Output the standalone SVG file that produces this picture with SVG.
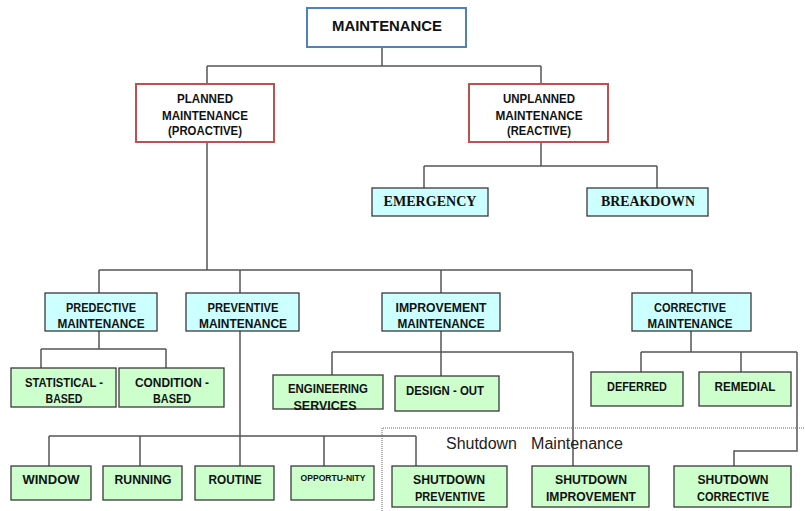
<svg xmlns="http://www.w3.org/2000/svg" width="805" height="511" viewBox="0 0 805 511">
  <style>
    .conn { fill: none; stroke: #555; stroke-width: 1.5; }
    .dot { fill: none; stroke: #666; stroke-width: 1; stroke-dasharray: 1 1; }
    .root { fill: #fff; stroke: #4f81bd; stroke-width: 2; }
    .top { fill: #fff; stroke: #c0504d; stroke-width: 2; }
    .cyan { fill: #ccffff; stroke: #3a3a3a; stroke-width: 1.3; }
    .green { fill: #ccffcc; stroke: #3a3a3a; stroke-width: 1.3; }
    text { font-family: "Liberation Sans", Arial, sans-serif; font-weight: bold; font-size: 12.5px; fill: #111; text-anchor: middle; }
    .serif { font-family: "Liberation Serif", "Times New Roman", serif; font-size: 14px; }
    .big { font-size: 15px; }
    .small { font-size: 8.5px; }
    .plain { font-weight: normal; font-size: 16px; text-anchor: start; fill: #222; }
  </style>

  <!-- connectors -->
  <g id="connectors">
    <path class="conn" d="M382,47 V66 M207,66 H541 M207,66 V84 M541,66 V84"/>
    <path class="conn" d="M541,142 V166 M424,166 H657 M424,166 V188 M657,166 V188"/>
    <path class="conn" d="M207,142 V270 M99,270 H692 M99,270 V293 M240,270 V293 M441,270 V293 M692,270 V293"/>
    <path class="conn" d="M99,331 V349 M41,349 H166 M41,349 V368 M166,349 V368"/>
    <path class="conn" d="M240,331 V436 M49,436 H416 M49,436 V466 M140,436 V466 M240,436 V466 M324,436 V466 M416,436 V466"/>
    <path class="conn" d="M441,331 V376 M332,352 H573 M332,352 V375 M573,352 V466"/>
    <path class="conn" d="M691,331 V352 M641,352 H797 M641,352 V372 M741,352 V372 M797,352 V451 H734 V466"/>
    <path class="dot" d="M382,511 V428 H805"/>
  </g>

  <g id="maintenance">
    <rect class="root" x="307" y="8" width="159" height="39"/>
    <text class="big" x="387" y="31" textLength="110" lengthAdjust="spacingAndGlyphs">MAINTENANCE</text>
  </g>

  <g id="planned">
    <rect class="top" x="136" y="84" width="138" height="58"/>
    <text x="205" y="103" textLength="56" lengthAdjust="spacingAndGlyphs">PLANNED</text>
    <text x="205" y="120" textLength="86" lengthAdjust="spacingAndGlyphs">MAINTENANCE</text>
    <text x="205" y="135" textLength="74" lengthAdjust="spacingAndGlyphs">(PROACTIVE)</text>
  </g>

  <g id="unplanned">
    <rect class="top" x="469" y="84" width="139" height="58"/>
    <text x="539" y="103" textLength="72" lengthAdjust="spacingAndGlyphs">UNPLANNED</text>
    <text x="539" y="120" textLength="87" lengthAdjust="spacingAndGlyphs">MAINTENANCE</text>
    <text x="539" y="135" textLength="64" lengthAdjust="spacingAndGlyphs">(REACTIVE)</text>
  </g>

  <g id="emergency">
    <rect class="cyan" x="372" y="188" width="116" height="28"/>
    <text class="serif" x="430" y="206" textLength="93" lengthAdjust="spacingAndGlyphs">EMERGENCY</text>
  </g>

  <g id="breakdown">
    <rect class="cyan" x="587" y="188" width="121" height="28"/>
    <text class="serif" x="648" y="206" textLength="94" lengthAdjust="spacingAndGlyphs">BREAKDOWN</text>
  </g>

  <g id="predictive">
    <rect class="cyan" x="45" y="293" width="112" height="38"/>
    <text x="101" y="312" textLength="70" lengthAdjust="spacingAndGlyphs">PREDECTIVE</text>
    <text x="101" y="328" textLength="87" lengthAdjust="spacingAndGlyphs">MAINTENANCE</text>
  </g>

  <g id="preventive">
    <rect class="cyan" x="186" y="293" width="113" height="38"/>
    <text x="243" y="312" textLength="71" lengthAdjust="spacingAndGlyphs">PREVENTIVE</text>
    <text x="243" y="328" textLength="88" lengthAdjust="spacingAndGlyphs">MAINTENANCE</text>
  </g>

  <g id="improvement">
    <rect class="cyan" x="382" y="293" width="118" height="38"/>
    <text x="441" y="312" textLength="91" lengthAdjust="spacingAndGlyphs">IMPROVEMENT</text>
    <text x="441" y="328" textLength="87" lengthAdjust="spacingAndGlyphs">MAINTENANCE</text>
  </g>

  <g id="corrective">
    <rect class="cyan" x="632" y="293" width="119" height="38"/>
    <text x="690" y="312" textLength="72" lengthAdjust="spacingAndGlyphs">CORRECTIVE</text>
    <text x="690" y="328" textLength="85" lengthAdjust="spacingAndGlyphs">MAINTENANCE</text>
  </g>

  <g id="statistical">
    <rect class="green" x="11" y="368" width="105" height="39"/>
    <text x="64" y="387" textLength="78" lengthAdjust="spacingAndGlyphs">STATISTICAL -</text>
    <text x="64" y="403" textLength="37" lengthAdjust="spacingAndGlyphs">BASED</text>
  </g>

  <g id="condition">
    <rect class="green" x="119" y="368" width="105" height="39"/>
    <text x="172" y="387" textLength="74" lengthAdjust="spacingAndGlyphs">CONDITION -</text>
    <text x="172" y="403" textLength="38" lengthAdjust="spacingAndGlyphs">BASED</text>
  </g>

  <g id="engineering">
    <rect class="green" x="273" y="375" width="110" height="34"/>
    <text x="328" y="393" textLength="80" lengthAdjust="spacingAndGlyphs">ENGINEERING</text>
    <text x="325" y="410" textLength="63" lengthAdjust="spacingAndGlyphs">SERVICES</text>
  </g>

  <g id="design-out">
    <rect class="green" x="395" y="376" width="104" height="35"/>
    <text x="445" y="395" textLength="78" lengthAdjust="spacingAndGlyphs">DESIGN - OUT</text>
  </g>

  <g id="deferred">
    <rect class="green" x="591" y="372" width="92" height="34"/>
    <text x="637" y="391" textLength="60" lengthAdjust="spacingAndGlyphs">DEFERRED</text>
  </g>

  <g id="remedial">
    <rect class="green" x="699" y="372" width="92" height="34"/>
    <text x="745" y="391" textLength="61" lengthAdjust="spacingAndGlyphs">REMEDIAL</text>
  </g>

  <g id="window">
    <rect class="green" x="11" y="466" width="80" height="34"/>
    <text x="51" y="484" textLength="57" lengthAdjust="spacingAndGlyphs">WINDOW</text>
  </g>

  <g id="running">
    <rect class="green" x="103" y="466" width="79" height="34"/>
    <text x="143" y="484" textLength="57" lengthAdjust="spacingAndGlyphs">RUNNING</text>
  </g>

  <g id="routine">
    <rect class="green" x="195" y="466" width="79" height="34"/>
    <text x="235" y="484" textLength="53" lengthAdjust="spacingAndGlyphs">ROUTINE</text>
  </g>

  <g id="opportunity">
    <rect class="green" x="291" y="466" width="83" height="34"/>
    <text class="small" x="333" y="481" textLength="65" lengthAdjust="spacingAndGlyphs">OPPORTU-NITY</text>
  </g>

  <!-- shutdown group label -->
  <text class="plain" x="446" y="449" textLength="71" lengthAdjust="spacingAndGlyphs">Shutdown</text>
  <text class="plain" x="531" y="449" textLength="92" lengthAdjust="spacingAndGlyphs">Maintenance</text>

  <g id="shutdown-preventive">
    <rect class="green" x="392" y="466" width="115" height="41"/>
    <text x="449" y="484" textLength="72" lengthAdjust="spacingAndGlyphs">SHUTDOWN</text>
    <text x="450" y="501" textLength="70" lengthAdjust="spacingAndGlyphs">PREVENTIVE</text>
  </g>

  <g id="shutdown-improvement">
    <rect class="green" x="532" y="466" width="117" height="41"/>
    <text x="591" y="484" textLength="72" lengthAdjust="spacingAndGlyphs">SHUTDOWN</text>
    <text x="591" y="501" textLength="90" lengthAdjust="spacingAndGlyphs">IMPROVEMENT</text>
  </g>

  <g id="shutdown-corrective">
    <rect class="green" x="674" y="466" width="117" height="41"/>
    <text x="733" y="484" textLength="71" lengthAdjust="spacingAndGlyphs">SHUTDOWN</text>
    <text x="733" y="501" textLength="72" lengthAdjust="spacingAndGlyphs">CORRECTIVE</text>
  </g>
</svg>
